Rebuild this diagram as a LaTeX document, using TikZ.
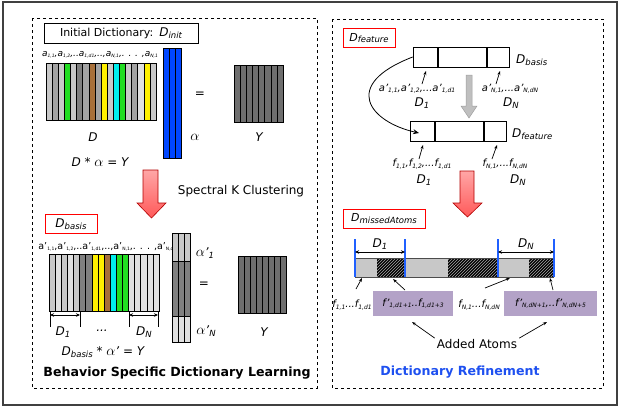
\documentclass[tikz,border=0pt]{standalone}
\usepackage{fontspec}
\setmainfont{DejaVu Sans}
\usetikzlibrary{arrows.meta,patterns}

\definecolor{lgray}{HTML}{C8C8C8}
\definecolor{mgray}{HTML}{A3A3A3}
\definecolor{dgray}{HTML}{808080}
\definecolor{vlgray}{HTML}{E0E0E0}
\definecolor{ygray}{HTML}{6E6E6E}
\definecolor{agreen}{HTML}{22DD22}
\definecolor{abrown}{HTML}{A8703A}
\definecolor{ayellow}{HTML}{FFF000}
\definecolor{acyan}{HTML}{00EEEE}
\definecolor{ablue}{HTML}{0046FF}
\definecolor{purp}{HTML}{B3A2C7}
\definecolor{titleblue}{HTML}{1E50F0}
\definecolor{lineblue}{HTML}{2060FF}

% small subscript, a letter with a subscript, a big alpha
\newcommand{\lsub}[2][4.5]{\raisebox{-.25ex}{\fontsize{#1}{#1}\selectfont #2}}
\newcommand{\vsub}[2]{#1\raisebox{-.3ex}{\fontsize{8.5}{8.5}\selectfont #2}}
\newcommand{\alp}{{\fontsize{15}{15}\selectfont$\alpha$}}

\begin{document}
\begin{tikzpicture}[x=1pt,y=-1pt,
    every node/.style={inner sep=0pt},
    panel/.style={draw,dashed,line width=0.6pt},
    titlebox/.style={draw,line width=0.7pt,minimum height=20pt,minimum width=154pt},
    redbox/.style={draw=red,line width=0.9pt,minimum height=19pt},
    cell/.style={draw=black,line width=0.5pt},
    lbl/.style={font=\fontsize{12}{12}\selectfont\itshape},
    smalllbl/.style={font=\fontsize{10}{10}\selectfont\itshape},
    tiny/.style={font=\fontsize{9}{9}\selectfont\itshape},
    smallarr/.style={-{Stealth[length=4pt,width=3pt]},line width=0.7pt},
    dimarr/.style={{Stealth[length=4pt,width=3.5pt]}-{Stealth[length=4pt,width=3.5pt]},line width=0.8pt},
    redarrow/.style={draw=red!70!black,line width=0.6pt,top color=red!35,bottom color=red!65},
    bar/.style={draw,line width=0.7pt,minimum width=96pt,minimum height=20pt},
    divider/.style={line width=1.6pt},
    hatch/.style={fill=black,postaction={pattern=north east lines,pattern color=gray!70}},
    bluetick/.style={draw=lineblue,line width=1.1pt},
    addbox/.style={fill=purp,minimum height=25pt},
    heading/.style={font=\fontsize{12.6}{13}\selectfont\bfseries},
]
\useasboundingbox (0,0) rectangle (619,408);
\draw[line width=1.2pt,draw=gray!50!black] (3,2) rectangle (617,405);

% left panel
\draw[panel] (32,18) rectangle (317,388);
\node[titlebox] (init) at (121,33) {\fontsize{11}{11}\selectfont Initial Dictionary:\hspace{6pt}{\fontsize{12}{12}\selectfont\itshape\vsub{D}{init}}};

\node[tiny] (alab) at (100,55) {a\lsub{1,1},a\lsub{1,2},..a\lsub{1,d1},..,a\lsub{N,1},. . . ,a\lsub{N,1}};
\foreach \c [count=\i from 0] in {lgray,mgray,lgray,agreen,lgray,dgray,mgray,abrown,mgray,ayellow,lgray,acyan,agreen,lgray,mgray,vlgray,ayellow,lgray}
    \filldraw[cell,fill=\c] ({46+\i*6.11},63) rectangle ++(6.11,57);
\foreach \i in {0,1,2}
    \filldraw[cell,fill=ablue] ({163+\i*6},48) rectangle ++(6,110);
\foreach \i in {0,...,7}
    \filldraw[cell,fill=ygray] ({234+\i*6.125},65) rectangle ++(6.125,57);

\node[font=\fontsize{12}{12}\selectfont] (eq1) at (200,95) {=};
\node[lbl] (D) at (93,137) {D};
\node[lbl] (alpha) at (195,137) {\alp};
\node[lbl] (Y) at (259,137) {Y};
\node[lbl] (prod1) at (100,162) {D * \alp{} = Y};

\draw[redarrow] (143,170) -- (158,170) -- (158,203) -- (166,203) -- (151.5,218) -- (137,203) -- (143,203) -- cycle;
\node[font=\fontsize{12}{12}\selectfont] (spec) at (241,191) {Spectral K Clustering};

\node[redbox,minimum width=52pt] (basisbox) at (71,224) {\fontsize{12}{12}\selectfont\itshape\vsub{D}{basis}};
\node[font=\fontsize{9.5}{9.5}\selectfont] (alab2) at (106,247) {a'\lsub{1,1},a'\lsub{1,2},..a'\lsub{1,d1},..,a'\lsub{N,1},. . . ,a'\lsub{N,d}};
\foreach \c [count=\i from 0] in {lgray,vlgray,lgray,vlgray,lgray,dgray,dgray,ayellow,ayellow,abrown,acyan,agreen,agreen,vlgray,vlgray,vlgray,vlgray,vlgray}
    \filldraw[cell,fill=\c] ({49+\i*6.11},254) rectangle ++(6.11,57);
\foreach \i in {0,1,2} {
    \filldraw[cell,fill=lgray] ({172+\i*6},233) rectangle ++(6,28);
    \filldraw[cell,fill=dgray] ({172+\i*6},261) rectangle ++(6,55);
    \filldraw[cell,fill=vlgray] ({172+\i*6},316) rectangle ++(6,26);
}
\foreach \i in {0,...,7}
    \filldraw[cell,fill=ygray] ({238+\i*6},256) rectangle ++(6,57);

% widths of the first and last groups
\coordinate (g1a) at (50,311);  \coordinate (g1b) at (80,311);
\coordinate (gNa) at (129,311); \coordinate (gNb) at (158,311);
\foreach \p in {g1a,g1b,gNa,gNb}
    \draw[line width=0.7pt] (\p) -- ++(0,16);
\draw[dimarr] ([yshift=-4pt]g1a) -- ([yshift=-4pt]g1b);
\draw[dimarr] ([yshift=-4pt]gNa) -- ([yshift=-4pt]gNb);
\node[lbl] (d1) at (63,332) {\vsub{D}{1}};
\node[lbl] (dots) at (102,331) {...};
\node[lbl] (dn) at (144,332) {\vsub{D}{N}};
\node[lbl] (prod2) at (103,352) {\vsub{D}{basis} * \alp' = Y};
\node[lbl] (a1) at (205,253) {\alp'\lsub[8.5]{1}};
\node[font=\fontsize{12}{12}\selectfont] (eq2) at (204,285) {=};
\node[lbl] (aN) at (206,331) {\alp'\lsub[8.5]{N}};
\node[lbl] (Y2) at (264,332) {Y};
\node[heading] (left) at (177,373) {Behavior Specific Dictionary Learning};

% right panel
\draw[panel] (332,19) rectangle (603,388);
\node[redbox,minimum width=52pt] (featbox) at (369,38) {\fontsize{11}{11}\selectfont\itshape\vsub{D}{feature}};

\node[bar] (top) at (461,57) {};
\draw[divider] (438,47) -- (438,67);
\draw[divider] (487,47) -- (487,67);
\node[lbl,anchor=west] (tlab) at (516,60) {\vsub{D}{basis}};
\node[smalllbl] (ta1) at (417,89) {a'\lsub[6]{1,1},a'\lsub[6]{1,2},...a'\lsub[6]{1,d1}};
\node[smalllbl] (taN) at (510,89) {a'\lsub[6]{N,1},...a'\lsub[6]{N,dN}};
\node[lbl] (td1) at (422,103) {\vsub{D}{1}};
\node[lbl] (tdN) at (511,103) {\vsub{D}{N}};
\coordinate (p1) at (426,71); \coordinate (pN) at (500,71);
\draw[smallarr] (422,84) -- (p1);
\draw[smallarr] (496,84) -- (pN);

\draw[draw=gray!75,fill=gray!50,line width=0.5pt] (466,75) -- (472,75) -- (472,106) -- (477,106) -- (469,118) -- (461,106) -- (466,106) -- cycle;

\node[bar] (bot) at (458.5,131) {};
\draw[divider] (435,121) -- (435,141);
\draw[divider] (484,121) -- (484,141);
\coordinate (q) at (419,133);
\draw[-{Stealth[length=6pt,width=5pt]},line width=0.8pt] (top.west) .. controls (340,85) and (370,122) .. (q);
\node[lbl,anchor=west] (blab) at (512,134) {\vsub{D}{feature}};
\node[smalllbl] (bf1) at (422,164) {f\lsub[6]{1,1},f\lsub[6]{1,2},...f\lsub[6]{1,d1}};
\node[smalllbl] (bfN) at (505,164) {f\lsub[6]{N,1},...f\lsub[6]{N,dN}};
\node[lbl] (bd1) at (424,180) {\vsub{D}{1}};
\node[lbl] (bdN) at (518,180) {\vsub{D}{N}};
\coordinate (r1) at (423,145); \coordinate (rN) at (497,145);
\draw[smallarr] (419,159) -- (r1);
\draw[smallarr] (492,159) -- (rN);

\draw[redarrow] (460,171) -- (474,171) -- (474,203) -- (482,203) -- (467.5,217) -- (453,203) -- (460,203) -- cycle;

\node[redbox,minimum width=82pt] (missbox) at (384,218.5) {\fontsize{11}{11}\selectfont\itshape\vsub{D}{missedAtoms}};

% refined dictionary
\fill[lgray] (355,258) rectangle (377,277);
\fill[hatch] (377,258) rectangle (405,277);
\fill[lgray] (405,258) rectangle (448,277);
\fill[hatch] (448,258) rectangle (498,277);
\fill[lgray] (498,258) rectangle (529,277);
\fill[hatch] (529,258) rectangle (554,277);
\draw[gray!60!black,line width=0.6pt] (355,258) -- (554,258) (355,277) -- (554,277);
\coordinate (b1) at (355,277); \coordinate (b2) at (405,277);
\coordinate (b3) at (498,277); \coordinate (b4) at (554,277);
\foreach \p in {b1,b2,b3,b4}
    \draw[bluetick] (\p) -- ++(0,-38);
\draw[dimarr] ([yshift=25pt]b1) -- ([yshift=25pt]b2);
\draw[dimarr] ([yshift=25pt]b3) -- ([yshift=25pt]b4);
\node[lbl] (md1) at (380,244) {\vsub{D}{1}};
\node[lbl] (mdN) at (526,244) {\vsub{D}{N}};

\node[addbox,minimum width=80pt] (add1) at (413,303.5) {\fontsize{10}{10}\selectfont\itshape f'\lsub[6]{1,d1+1}..f\lsub[6]{1,d1+3}};
\node[addbox,minimum width=93pt] (addN) at (550.5,303.5) {\fontsize{10}{10}\selectfont\itshape f'\lsub[6]{N,dN+1},..f'\lsub[6]{N,dN+5}};
\node[smalllbl] (old1) at (352,305) {f\lsub[6]{1,1}...f\lsub[6]{1,d1}};
\node[smalllbl] (oldN) at (479,305) {f\lsub[6]{N,1}...f\lsub[6]{N,dN}};
\coordinate (s1) at (362,278); \coordinate (s2) at (393,279);
\coordinate (s3) at (510,278); \coordinate (s4) at (550,278);
\draw[smallarr] (356,289) -- (s1);
\draw[smallarr] (405,290) -- (s2);
\draw[smallarr] (485,288) -- (s3);
\draw[smallarr] (553,290) -- (s4);

\node[font=\fontsize{12}{12}\selectfont] (added) at (477,344) {Added Atoms};
\coordinate (u1) at (412,322); \coordinate (u2) at (547,322);
\draw[smallarr] ([shift={(-2,-1)}]added.north west) -- (u1);
\draw[smallarr] ([shift={(2,-1)}]added.north east) -- (u2);
\node[heading,text=titleblue] (right) at (460,372) {Dictionary Refinement};
\end{tikzpicture}
\end{document}
